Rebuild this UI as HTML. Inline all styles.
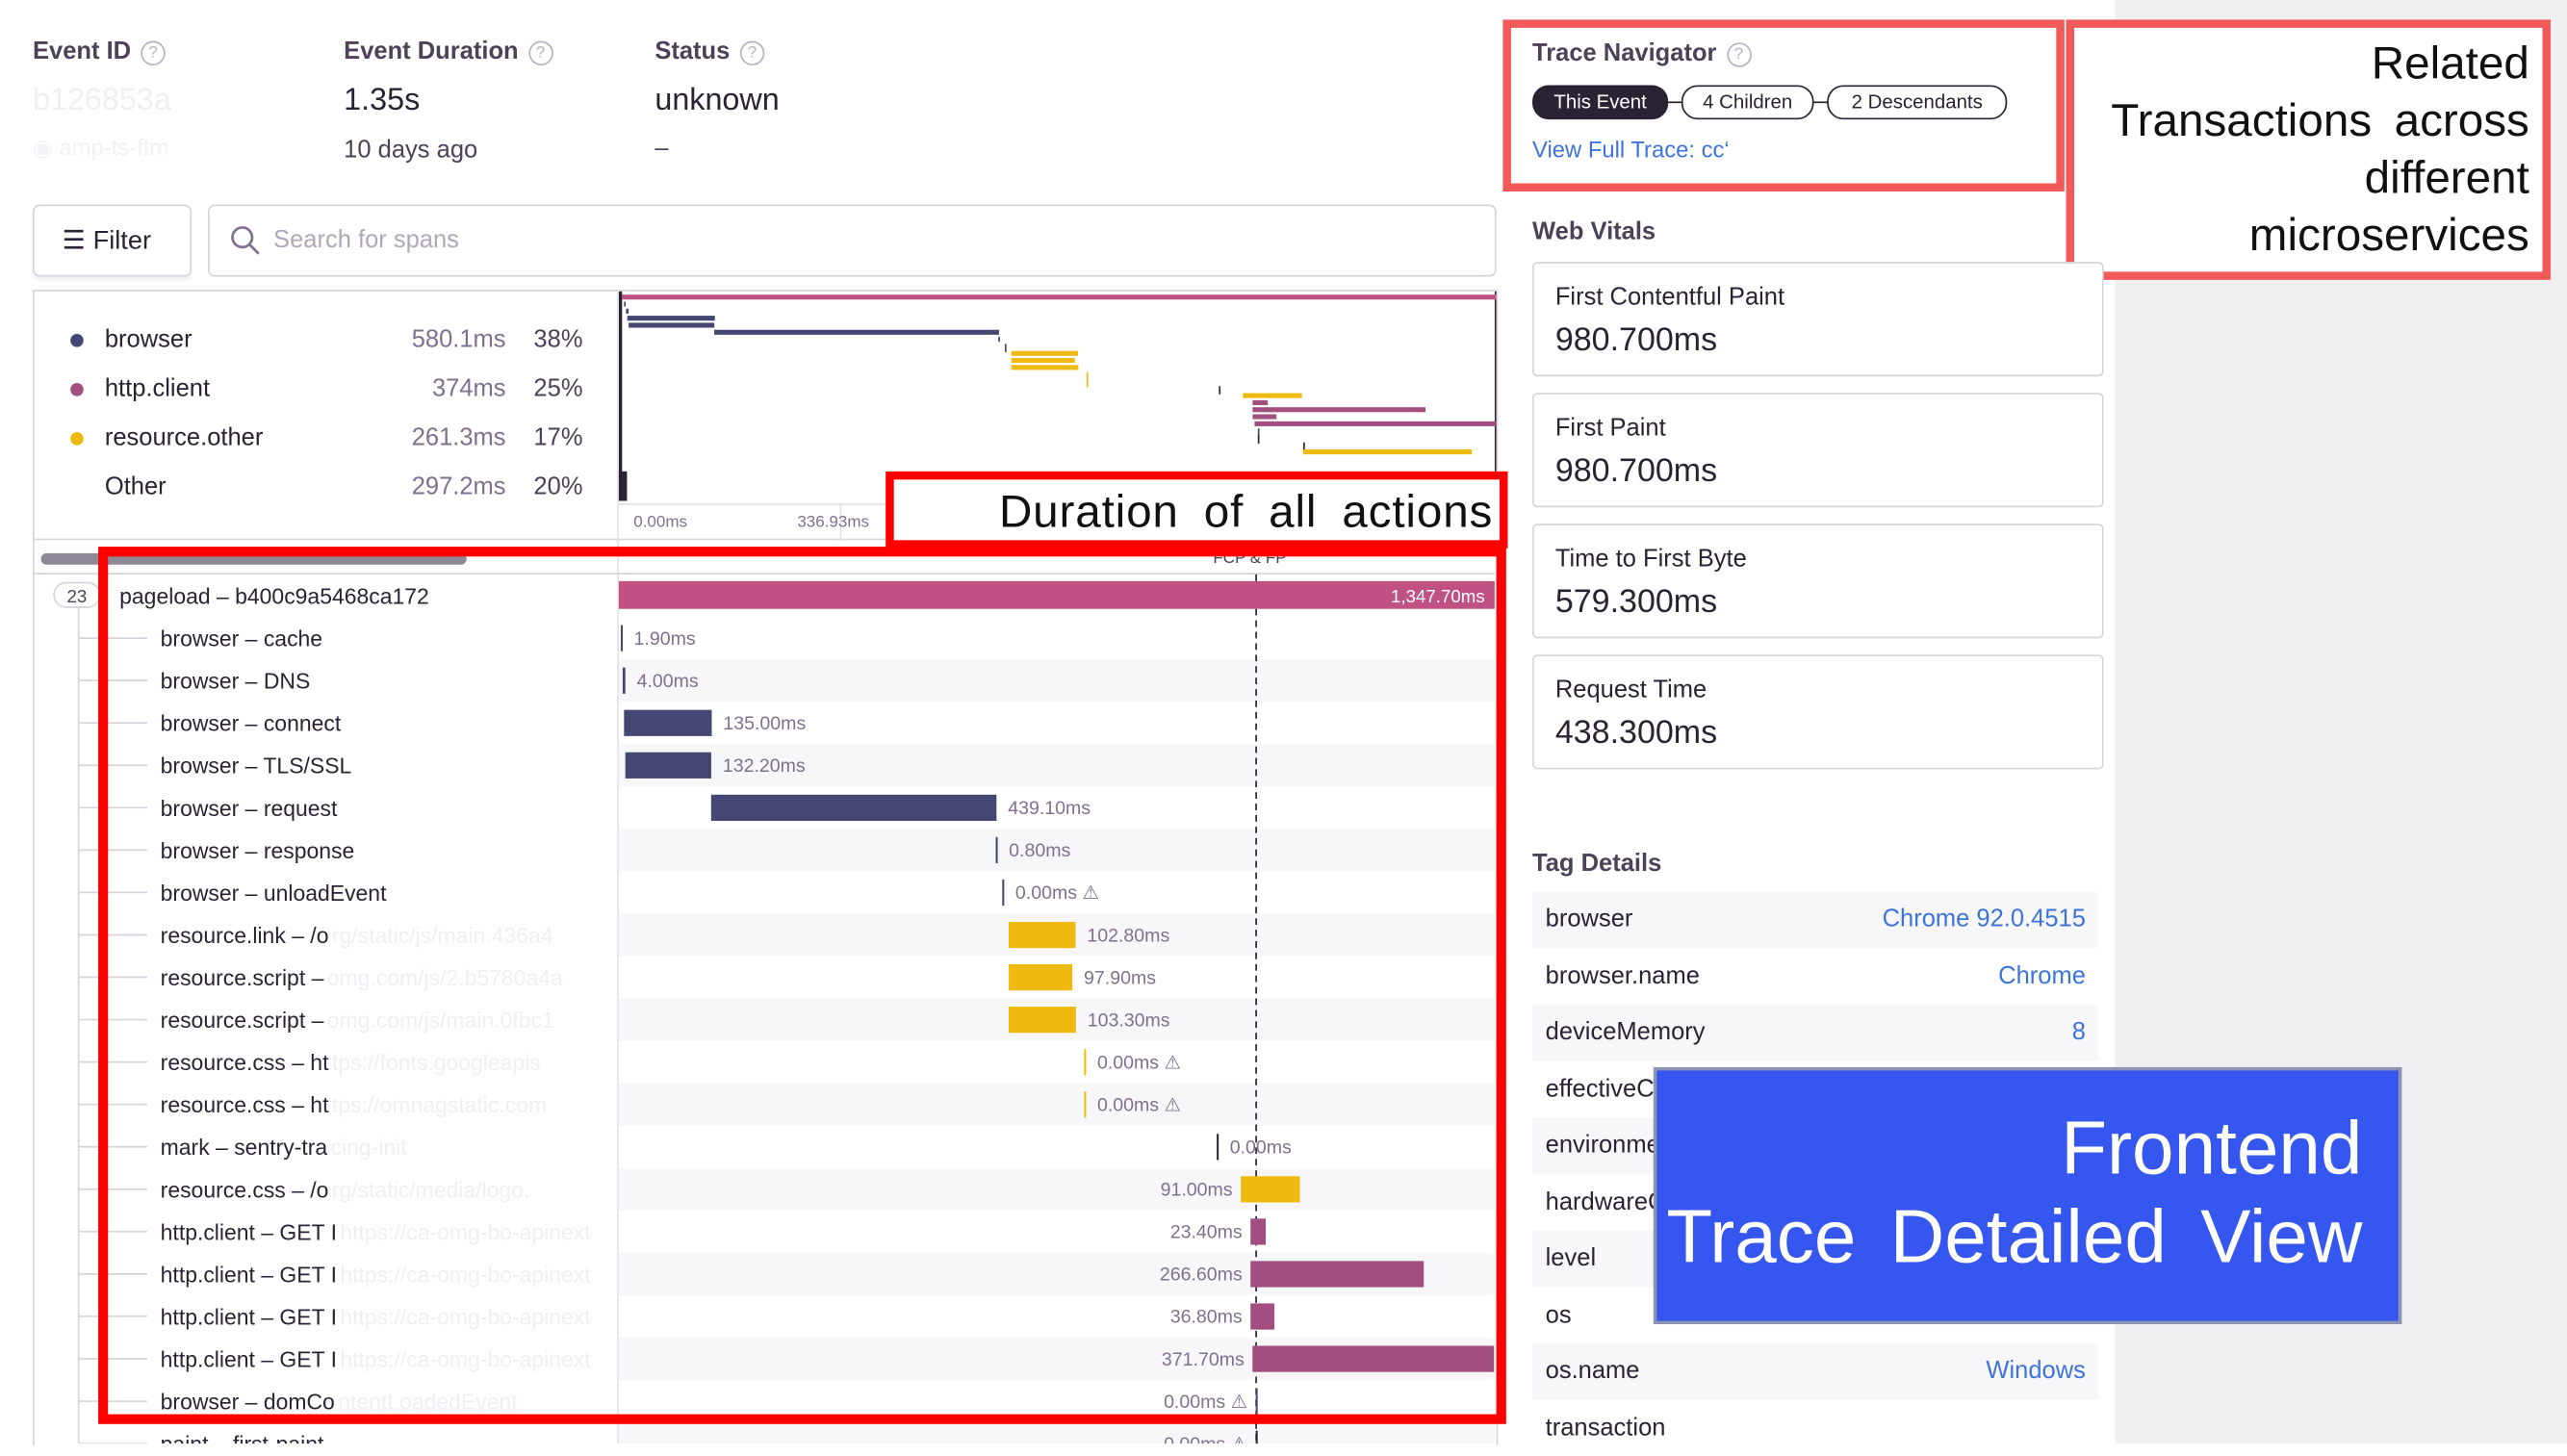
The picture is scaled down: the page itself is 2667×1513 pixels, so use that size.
<!DOCTYPE html>
<html><head><meta charset="utf-8"><style>
html,body{margin:0;padding:0;width:2667px;height:1500px;overflow:hidden;background:#fff;}
#root{position:absolute;left:0;top:0;width:1568px;height:882px;transform:scale(1.70089);transform-origin:0 0;font-family:"Liberation Sans",sans-serif;color:#2b2233;background:#fff;}
.a{position:absolute;white-space:nowrap;}
.lbl{font-size:15px;font-weight:bold;color:#4d4158;}
.q{display:inline-block;width:13px;height:13px;border:1px solid #b9b0c2;border-radius:50%;font-size:10px;color:#b9b0c2;text-align:center;line-height:13px;margin-left:6px;vertical-align:1px;font-weight:normal;}
.card{position:absolute;left:936px;width:347px;height:68px;border:1px solid #d8d3de;border-radius:3px;background:#fff;}
.card .t{position:absolute;left:13px;top:12px;font-size:15px;color:#2b2233;}
.card .v{position:absolute;left:13px;top:36px;font-size:20px;color:#2b2233;}
.tag{position:absolute;left:936px;width:346px;height:34px;font-size:15px;}
.tag .k{position:absolute;left:8px;top:8px;color:#2b2233;}
.tag .v{position:absolute;right:8px;top:8px;color:#3d74db;}
.pill{position:absolute;top:52px;height:19px;border:1px solid #2b2233;border-radius:10px;font-size:12px;line-height:19px;text-align:center;}
</style></head><body>
<div id="root">
<div class="a" style="left:1292px;top:0;width:276px;height:882px;background:#efeff1"></div>

<div class="a lbl" style="left:20px;top:23px">Event ID<span class="q">?</span></div>
<div class="a" style="left:20px;top:51px;font-size:19px;color:#f1eef4">b126853a</div>
<div class="a" style="left:20px;top:82px;font-size:14px;color:#f3f1f5">◉ amp-ts-ftm</div>
<div class="a lbl" style="left:210px;top:23px">Event Duration<span class="q">?</span></div>
<div class="a" style="left:210px;top:51px;font-size:19px">1.35s</div>
<div class="a" style="left:210px;top:83px;font-size:15px;color:#4d4158">10 days ago</div>
<div class="a lbl" style="left:400px;top:23px">Status<span class="q">?</span></div>
<div class="a" style="left:400px;top:51px;font-size:19px">unknown</div>
<div class="a" style="left:400px;top:82px;font-size:15px;color:#4d4158">–</div>

<div class="a" style="left:20px;top:125px;width:95px;height:42px;border:1px solid #d8d3de;border-radius:4px;box-shadow:0 2px 2px rgba(0,0,0,.06)"><span style="position:absolute;left:17px;top:11px;font-size:16px;color:#2b2233">☰&nbsp;Filter</span></div>
<div class="a" style="left:127px;top:125px;width:785px;height:42px;border:1px solid #d8d3de;border-radius:4px">
<svg style="position:absolute;left:12px;top:11px" width="20" height="20"><circle cx="8" cy="8" r="6" fill="none" stroke="#80708f" stroke-width="1.6"/><line x1="12.5" y1="12.5" x2="18" y2="18" stroke="#80708f" stroke-width="1.6"/></svg>
<span style="position:absolute;left:39px;top:12px;font-size:15px;color:#b0a7ba">Search for spans</span></div>

<div class="a" style="left:20px;top:177px;width:893px;height:705px;border:1px solid #d8d3de;border-bottom:none"></div>
<div id="legend"></div>
<div class="a" style="left:21px;top:329px;width:892px;height:1px;background:#d8d3de"></div>
<div class="a" style="left:377px;top:178px;width:1px;height:704px;background:#e4e0e8"></div>
<div class="a" style="left:25px;top:338px;width:260px;height:7px;border-radius:4px;background:#8f8896"></div>
<div class="a" style="left:21px;top:350px;width:892px;height:1px;background:#d8d3de"></div>
<div class="a" style="left:741px;top:336px;font-size:10px;color:#4d4158">FCP &amp; FP</div>

<svg id="mini" class="a" style="left:378px;top:178px" width="536" height="152"></svg>
<svg id="spans" class="a" style="left:21px;top:351px" width="892" height="531"></svg>

<div class="a" style="left:541px;top:288px;width:370px;height:37px;border:5px solid #f00;background:#fff"><span style="position:absolute;right:4px;top:4px;font-size:28px;color:#111;word-spacing:7px;letter-spacing:0.5px">Duration of all actions</span></div>
<div class="a" style="left:60px;top:334px;width:848px;height:524px;border:6px solid #f00"></div>

<div class="a lbl" style="left:936px;top:24px">Trace Navigator<span class="q">?</span></div>
<div class="a" style="left:1010px;top:62px;width:120px;height:1px;background:#2b2233"></div>
<div class="pill" style="left:936px;width:81px;background:#2b2233;color:#fff">This Event</div>
<div class="pill" style="left:1027px;width:79px;background:#fff">4 Children</div>
<div class="pill" style="left:1116px;width:108px;background:#fff">2 Descendants</div>
<div class="a" style="left:936px;top:83px;font-size:14px;color:#3d74db">View Full Trace: cc‘</div>
<div class="a" style="left:918px;top:12px;width:333px;height:95px;border:5px solid #f25a5a"></div>
<div class="a" style="left:1262px;top:12px;width:286px;height:149px;border:5px solid #f25a5a;background:#fff"><div style="position:absolute;right:8px;top:4px;font-size:28px;line-height:35px;text-align:right;color:#111;word-spacing:6px">Related<br>Transactions across<br>different<br>microservices</div></div>

<div class="a lbl" style="left:936px;top:133px">Web Vitals</div>
<div class="card" style="top:160px"><span class="t">First Contentful Paint</span><span class="v">980.700ms</span></div>
<div class="card" style="top:240px"><span class="t">First Paint</span><span class="v">980.700ms</span></div>
<div class="card" style="top:320px"><span class="t">Time to First Byte</span><span class="v">579.300ms</span></div>
<div class="card" style="top:400px"><span class="t">Request Time</span><span class="v">438.300ms</span></div>

<div class="a lbl" style="left:936px;top:519px">Tag Details</div>
<div id="tags"></div>

<div class="a" style="left:1010px;top:652px;width:453px;height:153px;background:#3556ef;border:2px solid #8d94b0"><div style="position:absolute;right:22px;top:20px;font-size:46px;line-height:54px;text-align:right;color:#fff;word-spacing:8px">Frontend<br>Trace Detailed View</div></div>
</div>
<script>
// legend data
const legendNames=["browser","http.client","resource.other","Other"];
const legendDur=["580.1ms","374ms","261.3ms","297.2ms"];
const legendPct=["38%","25%","17%","20%"];
const legendColors=["#444674","#a24e80","#efba0f",null];
// span data
const spanOps=["pageload","browser","browser","browser","browser","browser","browser","browser","resource.link","resource.script","resource.script","resource.css","resource.css","mark","resource.css","http.client","http.client","http.client","http.client","browser","paint","mark","resource.other"];
const spanDesc=["b400c9a5468ca172","cache","DNS","connect","TLS/SSL","request","response","unloadEvent","/o","","","ht","ht","sentry-tra","/o","GET I","GET I","GET I","GET I","domCo","first-paint","",""];
const spanTail=["","","","","","","","","rg/static/js/main.436a4","omg.com/js/2.b5780a4a","omg.com/js/main.0fbc1","tps://fonts.googleapis","tps://omnagstatic.com","cing-init","rg/static/media/logo.","https://ca-omg-bo-apinext","https://ca-omg-bo-apinext","https://ca-omg-bo-apinext","https://ca-omg-bo-apinext","ntentLoadedEvent","",""," "];
const spanStart=[0,3,6,8,10,142,580,590,600,600,600,716,716,920,957,972,972,972,975,980,980,1050,1050];
const spanDur=[1347.7,1.9,4.0,135.0,132.2,439.1,0.8,0,102.8,97.9,103.3,0,0,0,91.0,23.4,266.6,36.8,371.7,0,0,0,260];
const traceTotal=1347.7;
const fcpMs=980.7;
// tag data
const tagKeys=["browser","browser.name","deviceMemory","effectiveConnection...","environment","hardwareConcurrency","level","os","os.name","transaction"];
const tagVals=["Chrome 92.0.4515","Chrome","8","4g","prod","24","info","Windows 10","Windows",""];

const NS="http://www.w3.org/2000/svg";
function colorOf(op){if(op==="pageload")return"#c05283";if(op==="browser")return"#444674";if(op==="http.client")return"#a24e80";if(op.startsWith("resource"))return"#efba0f";return"#2b2233";}
function mk(tag,attrs,parent){const e=document.createElementNS(NS,tag);for(const k in attrs)e.setAttribute(k,attrs[k]);parent.appendChild(e);return e;}

const root=document.getElementById('root');
legendNames.forEach((n,i)=>{
  const y=197+i*30;
  const row=document.createElement('div');
  row.className='a';row.style.cssText=`left:21px;top:${y}px;width:340px;height:22px;font-size:15px`;
  
  
  row.innerHTML=(legendColors[i]?`<span style="position:absolute;left:22px;top:7px;width:8px;height:8px;border-radius:50%;background:${legendColors[i]}"></span>`:'')+
   `<span style="position:absolute;left:43px;top:2px">${n}</span><span style="position:absolute;right:52px;top:2px;color:#80708f">${legendDur[i]}</span><span style="position:absolute;right:5px;top:2px;color:#4d4158">${legendPct[i]}</span>`;
  root.appendChild(row);
});

// minimap
const mini=document.getElementById('mini');
const mw=534, mx=v=>2+v/traceTotal*mw;
mk('rect',{x:0,y:0,width:2,height:128,fill:'#2b2233'},mini);
mk('rect',{x:-3,y:110,width:8,height:18,fill:'#2b2233'},mini);
mk('rect',{x:mw+1,y:0,width:1,height:128,fill:'#2b2233'},mini);
mk('line',{x1:0,y1:130,x2:536,y2:130,stroke:'#e4e0e8'},mini);
mk('line',{x1:mx(traceTotal/4),y1:130,x2:mx(traceTotal/4),y2:152,stroke:'#e4e0e8'},mini);
const ml1=mk('text',{x:9,y:144,'font-size':10,fill:'#80708f'},mini);ml1.textContent='0.00ms';
const ml2=mk('text',{x:109,y:144,'font-size':10,fill:'#80708f'},mini);ml2.textContent=(traceTotal/4).toFixed(2)+'ms';
spanStart.forEach((s,i)=>{
  const y=2+i*4.3;
  const w=Math.max(1,spanDur[i]/traceTotal*mw);
  const r=mk('rect',{x:mx(s),y:y,width:w,height:spanDur[i]>0?3:5,fill:colorOf(spanOps[i])},mini);
  
  
});

// span tree
const sp=document.getElementById('spans');
const bx0=357, bw=535, px=v=>bx0+v/traceTotal*bw;
const rowH=25.9;
mk('line',{x1:27,y1:20,x2:27,y2:531,stroke:'#d8d3de'},sp);
mk('rect',{x:12,y:5,width:28,height:15,rx:7.5,fill:'#fff',stroke:'#d8d3de'},sp);
const cnt=mk('text',{x:26,y:17,'font-size':11,fill:'#4d4158','text-anchor':'middle'},sp);cnt.textContent='23';
for(let i=0;i<spanOps.length-2;i++){
  const y=i*rowH;
  if(i%2===0&&i>0) mk('rect',{x:bx0,y:y,width:bw,height:rowH,fill:'#f7f6f9'},sp);
}
mk('line',{x1:px(fcpMs),y1:0,x2:px(fcpMs),y2:531,stroke:'#2b2233','stroke-dasharray':'4,3'},sp);
for(let i=0;i<spanOps.length-2;i++){
  const y=i*rowH, cy=y+rowH/2;
  const g=mk('g',{},sp);
  
  
  const c=colorOf(spanOps[i]);
  if(i>0){mk('line',{x1:27,y1:cy,x2:69,y2:cy,stroke:'#d8d3de'},g);}
  const nm=mk('text',{x:i===0?52:77,y:cy+5,'font-size':13.5,fill:'#2b2233'},g);
  nm.textContent=spanOps[i]+' – '+spanDesc[i];
  if(spanTail[i]){const tl=mk('text',{y:cy+5,'font-size':13.5,fill:'#f1eef4'},g);tl.textContent=spanTail[i];
    const bb=nm.getComputedTextLength?nm.getComputedTextLength():0;tl.setAttribute('x',(i===0?52:77)+bb+2);}
  const x=px(spanStart[i]);
  const w=spanDur[i]/traceTotal*bw;
  const bar=mk('rect',{x:x,y:y+(i===0?4:5),width:Math.max(1.2,w),height:i===0?17:16,fill:c},g);
  
  
  const lbl=spanDur[i].toLocaleString('en-US',{minimumFractionDigits:2,maximumFractionDigits:2})+'ms'+(spanDur[i]===0&&spanStart[i]<900?' ⚠':'');
  let t;
  if(i===0){t=mk('text',{x:x+w-6,y:cy+4,'font-size':11,fill:'#fff','text-anchor':'end'},g);}
  else if(spanStart[i]>900&&spanOps[i]!=='mark'){t=mk('text',{x:x-5,y:cy+4,'font-size':11.5,fill:'#80708f','text-anchor':'end'},g);}
  else{t=mk('text',{x:x+Math.max(1,w)+7,y:cy+4,'font-size':11.5,fill:'#80708f'},g);}
  t.textContent=(spanStart[i]>900&&spanDur[i]===0&&spanOps[i]!=='mark')?lbl+' ⚠':lbl;
}
// mask tails under bar area
mk('rect',{x:bx0-1,y:0,width:0,height:0,fill:'none'},sp);

// tags
const tags=document.getElementById('tags');
tagKeys.forEach((k,i)=>{
  const d=document.createElement('div');
  d.className='tag';d.style.top=(545+i*34.5)+'px';
  if(i%2===0)d.style.background='#f7f6f9';
  
  
  d.innerHTML=`<span class="k">${k}</span><span class="v">${tagVals[i]}</span>`;
  tags.appendChild(d);
});
</script>
</body></html>
